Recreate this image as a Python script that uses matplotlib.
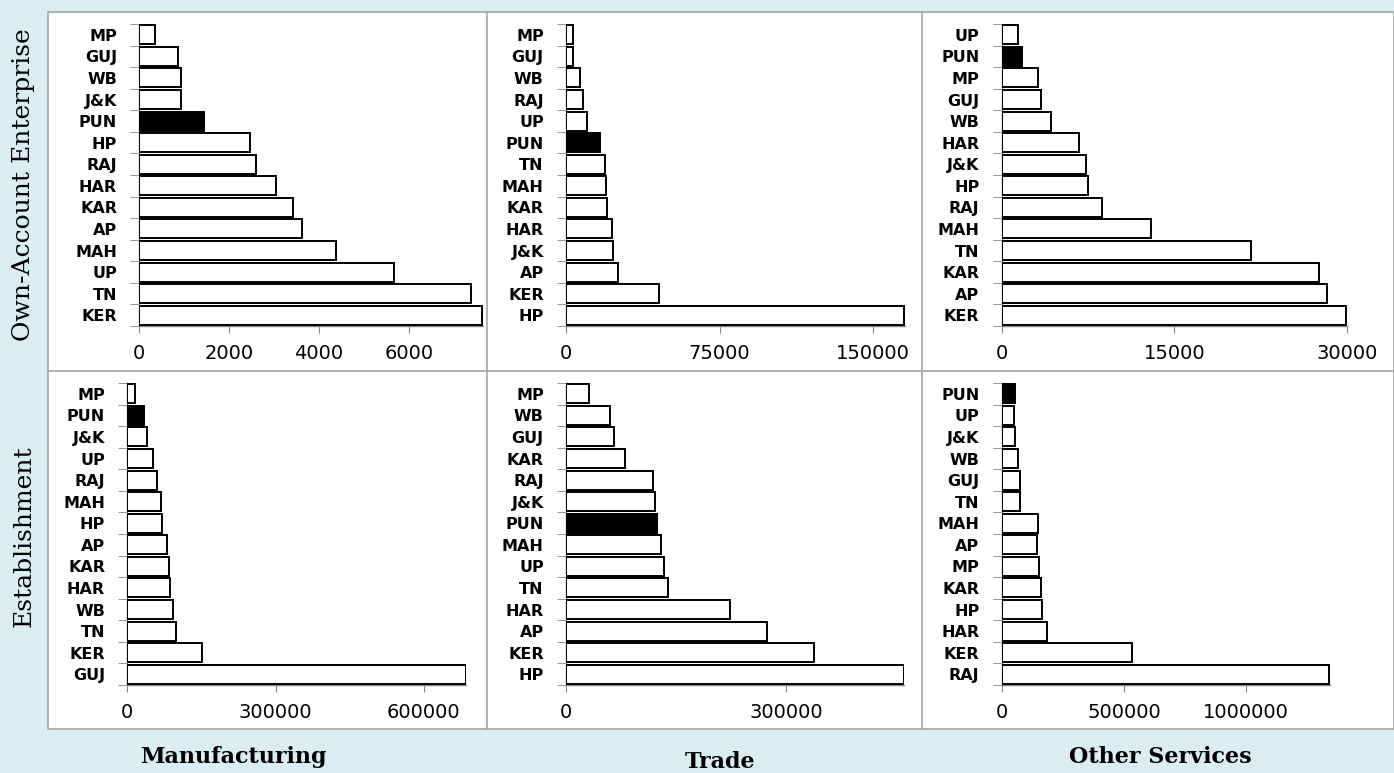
import numpy as np
import matplotlib.pyplot as plt
from matplotlib.patches import Rectangle
from matplotlib.lines import Line2D

W, H = 1394, 773

# categories listed top to bottom
mfgOAE_states = ['MP', 'GUJ', 'WB', 'J&K', 'PUN', 'HP', 'RAJ', 'HAR', 'KAR', 'AP', 'MAH', 'UP', 'TN', 'KER']
mfgOAE_vals = [360, 870, 925, 920, 1430, 2460, 2600, 3050, 3430, 3630, 4385, 5680, 7380, 7620]

tradeOAE_states = ['MP', 'GUJ', 'WB', 'RAJ', 'UP', 'PUN', 'TN', 'MAH', 'KAR', 'HAR', 'J&K', 'AP', 'KER', 'HP']
tradeOAE_vals = [3400, 3600, 6700, 8500, 10100, 16600, 19000, 19400, 20200, 22300, 22800, 25200, 45200, 165100]

osOAE_states = ['UP', 'PUN', 'MP', 'GUJ', 'WB', 'HAR', 'J&K', 'HP', 'RAJ', 'MAH', 'TN', 'KAR', 'AP', 'KER']
osOAE_vals = [1420, 1800, 3130, 3420, 4290, 6700, 7330, 7540, 8700, 13000, 21700, 27600, 28250, 29940]

mfgEst_states = ['MP', 'PUN', 'J&K', 'UP', 'RAJ', 'MAH', 'HP', 'AP', 'KAR', 'HAR', 'WB', 'TN', 'KER', 'GUJ']
mfgEst_vals = [15500, 33700, 39100, 52600, 60700, 68100, 70800, 79600, 84900, 87000, 92400, 97800, 151000, 685000]

tradeEst_states = ['MP', 'WB', 'GUJ', 'KAR', 'RAJ', 'J&K', 'PUN', 'MAH', 'UP', 'TN', 'HAR', 'AP', 'KER', 'HP']
tradeEst_vals = [30900, 60400, 65800, 80300, 118000, 120700, 124400, 129800, 133000, 138400, 223300, 273200, 337700, 460200]

osEst_states = ['PUN', 'UP', 'J&K', 'WB', 'GUJ', 'TN', 'MAH', 'AP', 'MP', 'KAR', 'HP', 'HAR', 'KER', 'RAJ']
osEst_vals = [53100, 49000, 55900, 68100, 73600, 76300, 147000, 146000, 151200, 160800, 166200, 186600, 532700, 1340000]

rowTitles = ['Own-Account Enterprise', 'Establishment']
colTitles = ['Manufacturing', 'Trade', 'Other Services']

# panel layout in pixels: x0, x1, y0, y1, xmax, ticks
panels = [
    (mfgOAE_states, mfgOAE_vals, 139.3, 483.0, 24, 326, 7650, [0, 2000, 4000, 6000]),
    (tradeOAE_states, tradeOAE_vals, 566.0, 905.0, 24, 326, 165500, [0, 75000, 150000]),
    (osOAE_states, osOAE_vals, 1001.7, 1346.7, 24, 326, 30000, [0, 15000, 30000]),
    (mfgEst_states, mfgEst_vals, 127.3, 466.3, 383, 685, 686000, [0, 300000, 600000]),
    (tradeEst_states, tradeEst_vals, 566.0, 904.5, 383, 685, 461000, [0, 300000]),
    (osEst_states, osEst_vals, 1001.7, 1329.7, 383, 685, 1341000, [0, 500000, 1000000]),
]

bg = '#DAEDF3'
gridGray = '#A6A6A6'
axGray = '#868686'

fig = plt.figure(figsize=(W/100, H/100), dpi=100, facecolor=bg)

# white chart area with dividers (drawn under the axes)
fig.patches.append(Rectangle((48/W, 1-729/H), (W-48)/W, (729-12)/H, transform=fig.transFigure,
                             facecolor='white', edgecolor=gridGray, linewidth=1.2, zorder=-3))
for xd in [487, 922]:
    fig.lines.append(Line2D([xd/W, xd/W], [1-729/H, 1-12/H], transform=fig.transFigure,
                            color=gridGray, linewidth=1.2, zorder=-2))
fig.lines.append(Line2D([48/W, 1], [1-371/H, 1-371/H], transform=fig.transFigure,
                        color=gridGray, linewidth=1.2, zorder=-2))

for states, vals, x0, x1, y0, y1, xmax, ticks in panels:
    ax = fig.add_axes([x0/W, 1-y1/H, (x1-x0)/W, (y1-y0)/H])
    ax.patch.set_alpha(0)
    pos = np.arange(len(states))
    colors = ['black' if s == 'PUN' else 'white' for s in states]
    ax.barh(pos, vals, height=0.88, color=colors, edgecolor='black', linewidth=1.4, zorder=3)
    ax.set_ylim(len(states)-0.5, -0.5)
    ax.set_xlim(0, xmax)
    ax.set_yticks(pos)
    ax.set_yticklabels(states, fontfamily='DejaVu Sans', fontweight='bold', fontsize=11.5)
    ax.set_yticks(np.arange(-0.5, len(states)), minor=True)
    ax.tick_params(axis='y', which='major', length=0, pad=16)
    ax.tick_params(axis='y', which='minor', length=6.5, color=axGray, direction='out')
    ax.set_xticks(ticks)
    ax.set_xticklabels([str(t) for t in ticks], fontfamily='DejaVu Sans', fontsize=14)
    ax.tick_params(axis='x', length=5, color=axGray, direction='out', pad=8)
    for side in ['top', 'right']:
        ax.spines[side].set_visible(False)
    for side in ['left', 'bottom']:
        ax.spines[side].set_color(axGray)
        ax.spines[side].set_linewidth(1.0)

# row titles
fig.text(24/W, 1-185/H, rowTitles[0], rotation=90, ha='center', va='center',
         fontfamily='DejaVu Serif', fontsize=18)
fig.text(24/W, 1-536/H, rowTitles[1], rotation=90, ha='center', va='center',
         fontfamily='DejaVu Serif', fontsize=18)

# column titles
for cx, cy, t in zip([233, 720, 1160], [757, 762, 757], colTitles):
    fig.text(cx/W, 1-cy/H, t, ha='center', va='center', fontfamily='DejaVu Serif',
             fontweight='bold', fontsize=16)

fig.savefig('out.png', dpi=100, facecolor=bg)
